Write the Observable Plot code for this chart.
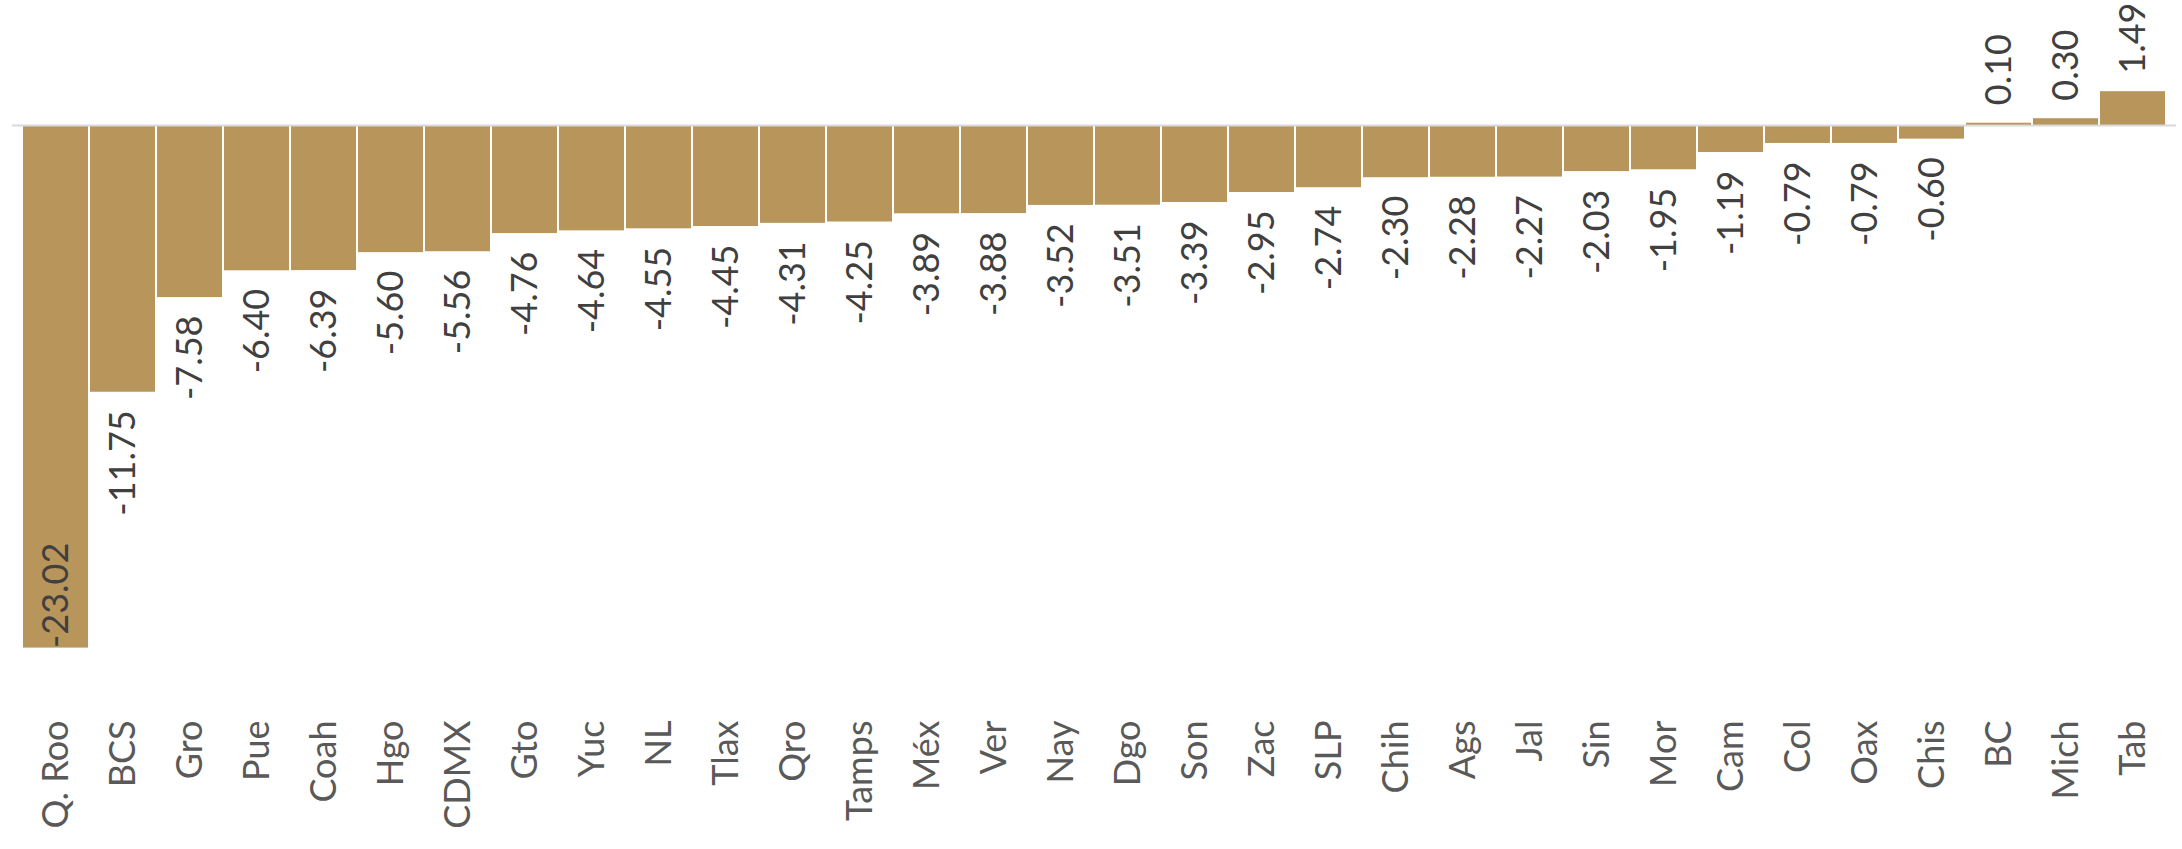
<!DOCTYPE html>
<html>
<head>
<meta charset="utf-8">
<script src="https://cdn.jsdelivr.net/npm/d3@7"></script>
<script src="https://cdn.jsdelivr.net/npm/@observablehq/plot@0.6"></script>
<style>
  html, body { margin: 0; padding: 0; background: #ffffff; overflow: hidden; }
  #chart { width: 2182px; height: 849px; }
  #chart svg { display: block; max-width: none !important; }
</style>
</head>
<body>
<div id="chart"></div>
<script>
const states = ["Q. Roo","BCS","Gro","Pue","Coah","Hgo","CDMX","Gto","Yuc","NL","Tlax","Qro","Tamps","Méx","Ver","Nay","Dgo","Son","Zac","SLP","Chih","Ags","Jal","Sin","Mor","Cam","Col","Oax","Chis","BC","Mich","Tab"];
const values = [-23.02,-11.75,-7.58,-6.40,-6.39,-5.60,-5.56,-4.76,-4.64,-4.55,-4.45,-4.31,-4.25,-3.89,-3.88,-3.52,-3.51,-3.39,-2.95,-2.74,-2.30,-2.28,-2.27,-2.03,-1.95,-1.19,-0.79,-0.79,-0.60,0.10,0.30,1.49];

const data = states.map((s, i) => ({state: s, value: values[i]}));
const fmt = d => d.value.toFixed(2);
const insideLimit = -20; // bars this long get their label inside the bar end

const barColor = "#b8955a";
const font = "Lato, 'Open Sans', sans-serif";

const chart = Plot.plot({
  width: 2182,
  height: 849,
  marginTop: 0,
  marginLeft: 12,
  marginRight: 6,
  marginBottom: 129,
  style: {fontFamily: font, background: "#ffffff", maxWidth: "none"},
  x: {domain: states, padding: 0, axis: null},
  y: {domain: [-26.21, 5.507], axis: null},
  marks: [
    Plot.barY(data, {x: "state", y: "value", fill: barColor, insetLeft: 1, insetRight: 1}),
    Plot.ruleY([0], {stroke: "#d9d9d9", strokeWidth: 2}),
    // negative labels below the bar end
    Plot.text(data.filter(d => d.value < 0 && d.value > insideLimit), {
      x: "state", y: "value", text: fmt, rotate: -90,
      textAnchor: "end", lineAnchor: "middle", dy: 18,
      fontSize: 36, fill: "#404040"
    }),
    // very long bar: label inside the bar end
    Plot.text(data.filter(d => d.value <= insideLimit), {
      x: "state", y: "value", text: fmt, rotate: -90,
      textAnchor: "start", lineAnchor: "middle", dy: 0,
      fontSize: 36, fill: "#404040"
    }),
    // positive labels above the bar end
    Plot.text(data.filter(d => d.value >= 0), {
      x: "state", y: "value", text: fmt, rotate: -90,
      textAnchor: "start", lineAnchor: "middle", dy: -18,
      fontSize: 36, fill: "#404040"
    }),
    // category labels
    Plot.text(data, {
      x: "state", frameAnchor: "bottom", text: "state", rotate: -90,
      textAnchor: "end", lineAnchor: "middle",
      fontSize: 36, fill: "#595959"
    })
  ]
});
document.getElementById("chart").append(chart);
</script>
</body>
</html>
